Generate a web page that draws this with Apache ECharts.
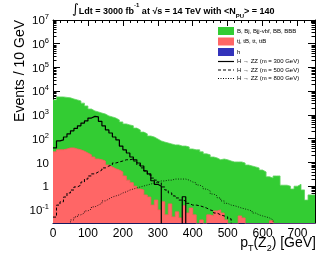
<!DOCTYPE html>
<html><head><meta charset="utf-8">
<script src="https://cdn.jsdelivr.net/npm/echarts@6/dist/echarts.min.js"></script>
<style>html,body{margin:0;padding:0;background:#fff}#c{width:332px;height:257px}</style>
</head><body><div id="c"></div>
<script>
// bin lower edges (GeV), 10 GeV bins, 0..750
const binWidth = 10;
const nBins = 75;
// top of the stacked backgrounds (Events / 10 GeV)
const topB = [4300,5750,5750,5500,5250,4700,4300,3900,3150,2400,1780,1480,1350,1200,1100,910,830,740,620,510,
  420,380,350,280,235,190,160,130,118,98,81,72,66,60,55,55,49,49,45,37,
  34,34,28,23,21,17,15.5,13,14,13,11.5,10.5,10.5,10.5,9.5,7.8,7.1,6.5,5.9,4.8,
  4.0,2.5,2.2,2.7,2.7,1.1,1.1,1.0,0.76,1.0,1.2,0.7,0.26,0.43,0.43];
const topT = [28,34,34,37,41,41,37,34,30,25,21,17,14,13,11.5,7.8,6.5,5.4,4.8,4.0,
  2.7,1.8,1.4,1.0,0.76,0.69,0.43,0.35,0.16,0.26,0.1,0.22,0.062,0.18,0.051,0.083,0.046,0.15,0.074,0.12,
  0.062,0,0.038,0,0.062,0.056,0.091,0.1,0.074,0.038,0,0,0,0.056,0.046,0,0,0,0,0,
  0,0,0.035,0,0,0,0,0,0,0,0,0,0,0,0];
const topH = new Array(75).fill(0);
const sig300 = [41,81,89,118,160,214,270,350,457,560,740,870,830,540,350,235,174,118,89,49,
  34,25,17,13,9.5,7.1,4.4,3.3,1.7,1.2,1.0,0,0,0,0,0,0,0.36,0,0,
  0,0,0,0,0,0,0,0,0,0,0,0,0,0,0,0,0,0,0,0,
  0,0,0,0,0,0,0,0,0,0,0,0,0,0,0];
const sig500 = [0.05,0.16,0.22,0.35,0.52,0.69,0.93,1.12,1.5,2.0,2.7,3.3,4.0,4.8,5.9,7.1,7.8,9.5,10.5,11.5,
  13,13,14,11.5,7.8,5.9,4.4,3.0,2.2,1.8,1.4,0.93,0.69,0.52,0.39,0.32,0.26,0.24,0.19,0.16,
  0.16,0.15,0.135,0.12,0.1,0.091,0.074,0.062,0.056,0.051,0.042,0,0,0,0,0,0,0,0,0,
  0,0,0,0,0,0,0,0,0,0,0,0,0,0,0];
const sig800 = [0,0,0,0,0,0.038,0.051,0.062,0.074,0.091,0.11,0.135,0.16,0.19,0.24,0.29,0.35,0.39,0.43,0.52,
  0.58,0.69,0.76,0.85,0.93,1.02,1.12,1.23,1.38,1.5,1.66,1.66,1.8,1.8,2.0,2.0,2.0,2.0,1.8,1.5,
  1.38,1.12,0.93,0.76,0.63,0.47,0.39,0.32,0.24,0.19,0.16,0.15,0.135,0.12,0.11,0.1,0.091,0.074,0.062,0.056,
  0.051,0.046,0.038,0,0,0,0,0,0,0,0,0,0,0,0];
const legendNames = ['B, Bj, Bjj-vbf, BB, BBB','tj, tB, tt, ttB','h',
  'H \u2192 ZZ (m = 300 GeV)','H \u2192 ZZ (m = 500 GeV)','H \u2192 ZZ (m = 800 GeV)'];
const yDecades = [-1,0,1,2,3,4,5,6,7];
const xTicks = [0,100,200,300,400,500,600,700];

const Y_MIN = -1.55, Y_MAX = 7;
function lg(v){ return v > 0 ? Math.log10(v) : -5; }
function hist(arr){
  const d = [];
  for (let i = 0; i < arr.length; i++) d.push([i*binWidth, lg(arr[i])]);
  d.push([arr.length*binWidth, lg(arr[arr.length-1])]);
  return d;
}
const minorVals = [];
for (let n = -2; n <= 6; n++) for (let k = 2; k <= 9; k++) {
  const v = Math.log10(k) + n; if (v > Y_MIN && v < Y_MAX) minorVals.push(v);
}
const FONT = 'Liberation Sans, Arial, DejaVu Sans, sans-serif';
function yFmt(v){
  const n = Math.round(v);
  if (n === 0) return '{b|1}';
  if (n === 1) return '{b|10}';
  return '{b|10}{s|' + n + '}';
}
const yRich = { b:{fontSize:11.5,fontFamily:FONT,color:'#000',lineHeight:14,verticalAlign:'bottom'},
                s:{fontSize:7.5,fontFamily:FONT,color:'#000',lineHeight:14,verticalAlign:'top',padding:[0,0,5,0]} };

function yAx(pos, major, labels){
  return { type:'value', min:Y_MIN, max:Y_MAX, position:pos,
    axisLine:{show:major, lineStyle:{color:'#000',width:1}},
    splitLine:{show:false},
    axisTick:{show:true, inside:true, length: major?7:3.5, customValues: major?yDecades:minorVals, lineStyle:{color:'#000'}},
    axisLabel:{show:labels, customValues: yDecades, formatter:yFmt, rich:yRich, margin:4}
  };
}
function xAx(pos, labels){
  return { type:'value', min:0, max:750, interval:100, position:pos,
    axisLine:{show:true, onZero:false, lineStyle:{color:'#000',width:1}},
    splitLine:{show:false},
    axisTick:{show:true, inside:true, length:6, lineStyle:{color:'#000'}},
    minorTick:{show:true, splitNumber:5, length:3, lineStyle:{color:'#000'}},
    axisLabel:{show:labels, fontSize:12, fontFamily:FONT, color:'#000', margin:5,
      customValues: xTicks, formatter: v => String(v)}
  };
}
const ICON_SOLID = 'path://M0,0h16v1.2h-16z';
const ICON_DASH = 'path://M0,0h3v1h-3z M5,0h3v1h-3z M10,0h3v1h-3z M15,0h1v1h-1z';
const ICON_DOT = 'path://M0,0h1v0.8h-1z M2.5,0h1v0.8h-1z M5,0h1v0.8h-1z M7.5,0h1v0.8h-1z M10,0h1v0.8h-1z M12.5,0h1v0.8h-1z M15,0h1v0.8h-1z';
const chart = echarts.init(document.getElementById('c'), null, {renderer:'canvas'});
const areaBase = {type:'line', step:'end', symbol:'none', xAxisIndex:0, yAxisIndex:0, clip:true, animation:false};
chart.setOption({
  animation:false,
  grid:{left:53, right:17, top:20, bottom:34},
  xAxis:[xAx('bottom', true), xAx('top', false)],
  yAxis:[yAx('left',true,true), yAx('left',false,false), yAx('right',true,false), yAx('right',false,false)],
  legend:{ orient:'vertical', left:213, top:22, itemWidth:16, itemHeight:8, itemGap:2.5, symbolKeepAspect:true,
    textStyle:{fontSize:6, fontFamily:FONT, color:'#000', padding:[0,0,0,-2]},
    data:[{name:legendNames[0],icon:'rect'},{name:legendNames[1],icon:'rect'},{name:legendNames[2],icon:'rect'},
      {name:legendNames[3],icon:ICON_SOLID},{name:legendNames[4],icon:ICON_DASH},{name:legendNames[5],icon:ICON_DOT}] },
  series:[
    Object.assign({}, areaBase, {name:legendNames[0], data:hist(topB), itemStyle:{color:'#33cc33'},
      lineStyle:{color:'#5fd45f',width:0.8}, areaStyle:{color:'#33cc33', origin:'start', opacity:1}}),
    Object.assign({}, areaBase, {name:legendNames[1], data:hist(topT), itemStyle:{color:'#ff6666'},
      lineStyle:{color:'#ff5a5a',width:0.8}, areaStyle:{color:'#ff6666', origin:'start', opacity:1}}),
    Object.assign({}, areaBase, {name:legendNames[2], data:hist(topH), itemStyle:{color:'#3333bb'},
      lineStyle:{color:'#3333bb',width:0.8}, areaStyle:{color:'#3333bb', origin:'start', opacity:1}}),
    Object.assign({}, areaBase, {name:legendNames[3], data:hist(sig300), itemStyle:{color:'#000'},
      lineStyle:{color:'#000',width:1.2,type:'solid'}}),
    Object.assign({}, areaBase, {name:legendNames[4], data:hist(sig500), itemStyle:{color:'#000'},
      lineStyle:{color:'#000',width:1,type:[3,2]}}),
    Object.assign({}, areaBase, {name:legendNames[5], data:hist(sig800), itemStyle:{color:'#000'},
      lineStyle:{color:'#000',width:0.8,type:[1,1.5]}})
  ],
  graphic:[
    {type:'text', left:72, top:2, style:{
      text:'{i|\u222B}{b|Ldt = 3000 fb}{s|-1}{b| at \u221As = 14 TeV with <N}{u|PU}{b|> = 140}',
      rich:{ i:{fontSize:13,fontFamily:'DejaVu Sans',fill:'#000',verticalAlign:'bottom',lineHeight:14},
             b:{fontSize:9,fontWeight:'bold',fontFamily:FONT,fill:'#000',verticalAlign:'bottom',lineHeight:14},
             s:{fontSize:6,fontWeight:'bold',fontFamily:FONT,fill:'#000',verticalAlign:'top',lineHeight:14,padding:[0,0,6,0]},
             u:{fontSize:6,fontWeight:'bold',fontFamily:FONT,fill:'#000',verticalAlign:'bottom',lineHeight:14,padding:[0,0,-3,0]} }
    }},
    {type:'text', right:16, top:236, style:{
      text:'{b|p}{u|T}{b|(Z}{u|2}{b|) [GeV]}',
      rich:{ b:{fontSize:14,fontFamily:FONT,fill:'#000',verticalAlign:'bottom',lineHeight:18},
             u:{fontSize:9,fontFamily:FONT,fill:'#000',verticalAlign:'bottom',lineHeight:18,padding:[0,0,-3,0]} }
    }},
    {type:'text', x:20, y:20, rotation:Math.PI/2, style:{text:'Events / 10 GeV', fontSize:14, fontFamily:FONT,
      fill:'#000', align:'right', verticalAlign:'middle'}}
  ]
});
</script></body></html>
